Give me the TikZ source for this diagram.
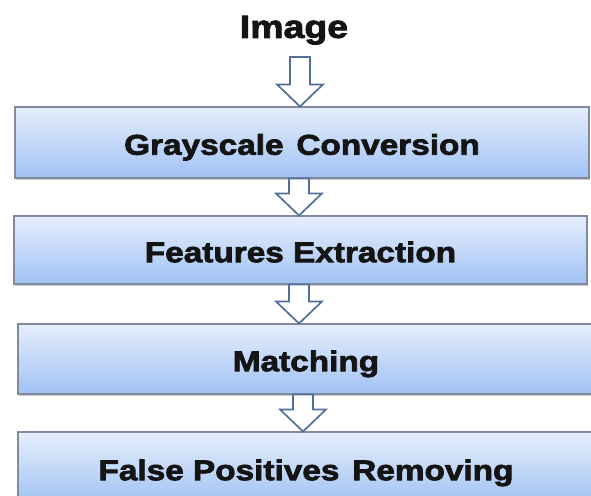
\documentclass[tikz,border=0pt]{standalone}
\usepackage{fontspec}
\usetikzlibrary{calc,shadows}
\newfontfamily\heavyfont{Liberation Sans}[FakeStretch=1.17,BoldFeatures={FakeBold=2.6}]
\definecolor{boxtop}{RGB}{230,238,252}
\definecolor{boxbottom}{RGB}{160,194,244}
\definecolor{boxedge}{RGB}{128,140,158}
\definecolor{arrowedge}{RGB}{84,112,152}
\tikzset{
  stepbox/.style={draw=boxedge, line width=1.1pt, inner sep=0pt,
    text height=24.4pt, text depth=0pt,
    top color=boxtop, bottom color=boxbottom,
    drop shadow={shadow xshift=1.2pt, shadow yshift=-1.5pt, opacity=0.35, fill=black!60},
    font=\heavyfont\bfseries\fontsize{28.5}{32}\selectfont, text=black!92},
  titletext/.style={inner sep=0pt, text height=22.9pt, text depth=0pt,
    font=\heavyfont\bfseries\fontsize{32}{36}\selectfont, text=black!92},
  arrowline/.style={draw=arrowedge, fill=white, line width=1.7pt, line join=miter}
}
% hollow block arrow: shaft starts at #1, tip ends at #2
\newcommand\flowarrow[2]{%
  \draw[arrowline] let \p1=(#1), \p2=(#2) in
    (\x2-10pt,\y1) -- (\x2-10pt,\y2+22pt) -- (\x2-23pt,\y2+22pt) -- (\x2,\y2)
    -- (\x2+23pt,\y2+22pt) -- (\x2+10pt,\y2+22pt) -- (\x2+10pt,\y1) -- cycle;}
\begin{document}
\begin{tikzpicture}[x=1pt,y=1pt]
\useasboundingbox[fill=white] (0,0) rectangle (591,-495);

\node[titletext] (img) at (294,-26.4) {Image};

\node[stepbox, minimum width=574pt, minimum height=71pt] (b1) at (302,-142.5)
  {Grayscale\hspace{0.45em}Conversion};
\node[stepbox, minimum width=573pt, minimum height=68pt] (b2) at (300.5,-250)
  {Features Extraction};
\node[stepbox, minimum width=576pt, minimum height=70pt] (b3) at (306,-359)
  {Matching};
\node[stepbox, minimum width=576pt, minimum height=72pt] (b4) at (306,-468)
  {False Positives\hspace{0.45em}Removing};

\coordinate (a0) at (300,-57);
\flowarrow{a0}{$(b1.north)+(-2,0)$}
\flowarrow{$(b1.south)+(-3,0)$}{$(b2.north)+(-1.5,0)$}
\flowarrow{$(b2.south)+(-1.5,0)$}{$(b3.north)+(-7,0)$}
\flowarrow{$(b3.south)+(-3,0)$}{$(b4.north)+(-3,0)$}
\end{tikzpicture}
\end{document}
